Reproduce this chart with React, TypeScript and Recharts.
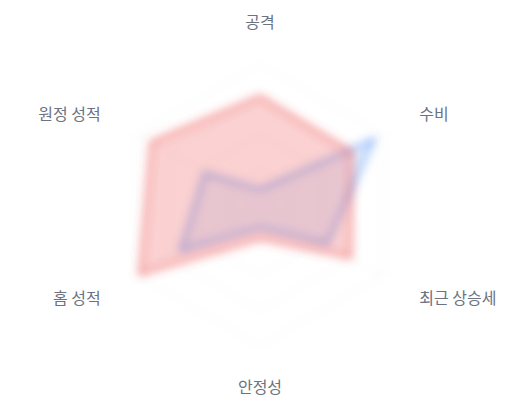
import { RadarChart, Radar, PolarGrid, PolarAngleAxis, PolarRadiusAxis } from "recharts";

const categories = ["공격", "수비", "최근 상승세", "안정성", "홈 성적", "원정 성적"];
const teamRed = [77, 75, 74, 24, 98, 89];
const teamBlue = [11, 93, 55, 16, 65, 45];

const data = categories.map((name, i) => ({
    name,
    red: teamRed[i],
    blue: teamBlue[i]
}));

const labelFont = '"Noto Sans CJK KR", "Noto Sans", sans-serif';

function AngleTick(props: any) {
    const { x, y, textAnchor, payload, cy } = props;
    // the bottom label sits a little closer to the grid
    const shift = textAnchor === "middle" && y > cy ? -3 : 0;
    return (
        <text
            x={x}
            y={y + shift}
            textAnchor={textAnchor}
            dominantBaseline="central"
            fill="#6b7280"
            fontSize={16}
            fontFamily={labelFont}
        >
            {payload.value}
        </text>
    );
}

export default function App() {
    return (
        <div style={{ width: 504, height: 392 }}>
            <style>{`
                .soft-grid, .recharts-radar { filter: url(#soft-blur); }
            `}</style>
            <svg width={0} height={0} style={{ position: "absolute" }}>
                <defs>
                    <filter id="soft-blur" x="-20%" y="-20%" width="140%" height="140%">
                        <feGaussianBlur stdDeviation={5} />
                    </filter>
                </defs>
            </svg>
            <RadarChart width={504} height={392} cx={252} cy={197} outerRadius={141} data={data}>
                <PolarGrid className="soft-grid" stroke="#ececec" />
                <PolarRadiusAxis domain={[0, 100]} tick={false} axisLine={false} />
                <PolarAngleAxis
                    dataKey="name"
                    tick={AngleTick}
                    tickSize={43}
                    tickLine={false}
                    axisLine={false}
                />
                <Radar
                    dataKey="blue"
                    stroke="#3b82f6"
                    strokeWidth={2}
                    fill="#3b82f6"
                    fillOpacity={0.12}
                    isAnimationActive={false}
                />
                <Radar
                    dataKey="red"
                    stroke="#ef4444"
                    strokeWidth={2}
                    fill="#ef4444"
                    fillOpacity={0.25}
                    isAnimationActive={false}
                />
            </RadarChart>
        </div>
    );
}
